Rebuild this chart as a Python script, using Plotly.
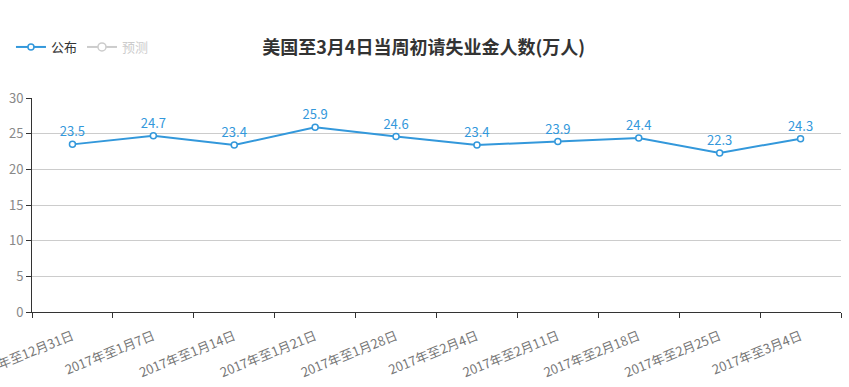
import plotly.graph_objects as go

categories = ["2017年至12月31日", "2017年至1月7日", "2017年至1月14日", "2017年至1月21日",
              "2017年至1月28日", "2017年至2月4日", "2017年至2月11日", "2017年至2月18日",
              "2017年至2月25日", "2017年至3月4日"]
published = [23.5, 24.7, 23.4, 25.9, 24.6, 23.4, 23.9, 24.4, 22.3, 24.3]
forecast = [None] * len(categories)

blue = "#3398DB"
font_family = "Noto Sans CJK SC, Microsoft YaHei, sans-serif"

fig = go.Figure()
fig.add_trace(go.Scatter(
    x=categories, y=published, name="公布", mode="lines+markers+text",
    line=dict(color=blue, width=2),
    marker=dict(symbol="circle", size=6, color="white", line=dict(color=blue, width=1.5)),
    text=[str(v) for v in published], textposition="top center",
    textfont=dict(color=blue, size=13, family=font_family),
    cliponaxis=False,
))
fig.add_trace(go.Scatter(
    x=categories, y=forecast, name="<span style='color:#cccccc'>预测</span>", mode="lines+markers",
    line=dict(color="#cccccc", width=2),
    marker=dict(symbol="circle", size=8, color="white", line=dict(color="#cccccc", width=1.5)),
))

fig.update_layout(
    width=849, height=387,
    margin=dict(l=32, r=8, t=98, b=75, autoexpand=False),
    paper_bgcolor="white", plot_bgcolor="white",
    font=dict(family=font_family, size=12, color="#333"),
    title=dict(text="<b>美国至3月4日当周初请失业金人数(万人)</b>", x=0.499, xanchor="center",
               xref="container", yref="container",
               y=1 - 48 / 387, yanchor="middle", font=dict(size=18, color="#333", family=font_family)),
    legend=dict(orientation="h", x=-0.026, y=1 + (98 - 47) / 214, xanchor="left", yanchor="middle",
                xref="paper", yref="paper",
                font=dict(size=13, color="#333"), itemwidth=30, tracegroupgap=0),
    showlegend=True,
    xaxis=dict(
        type="category", tickson="boundaries", tickangle=-22,
        showline=True, linecolor="#333", linewidth=1,
        ticks="outside", ticklen=5, tickcolor="#333",
        showgrid=False, automargin=False, ticklabelstandoff=11,
        tickfont=dict(color="#777", size=13),
        range=[-0.5, 9.5],
    ),
    yaxis=dict(
        range=[0, 30], dtick=5, showline=True, linecolor="#333", linewidth=1,
        ticks="outside", ticklen=5, tickcolor="#333",
        showgrid=True, gridcolor="#ccc", gridwidth=1, zeroline=False,
        tickfont=dict(color="#888", size=13), automargin=False,
    ),
)

fig.write_html("out.html", post_script="document.body.style.margin='0';",
               config={"displayModeBar": False})
